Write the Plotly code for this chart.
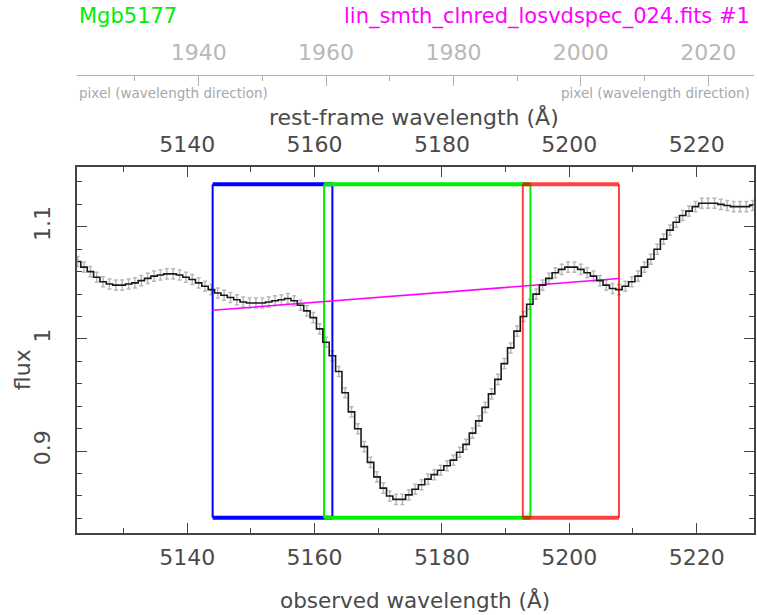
import plotly.graph_objects as go

# --- spectrum: pixel index, flux per pixel ---
pixel = list(range(1921, 2028))
lam_offset = 3201.8  # observed wavelength = pixel + offset (1 A / pixel)
flux = [
    1.069, 1.064, 1.060, 1.055, 1.051, 1.049, 1.048, 1.048, 1.049, 1.050,
    1.052, 1.054, 1.056, 1.057, 1.058, 1.058, 1.057, 1.055, 1.053, 1.050,
    1.047, 1.044, 1.041, 1.039, 1.037, 1.035, 1.033, 1.032, 1.032, 1.032,
    1.033, 1.034, 1.035, 1.036, 1.034, 1.030, 1.025, 1.019, 1.009, 0.997,
    0.985, 0.971, 0.952, 0.935, 0.920, 0.904, 0.890, 0.877, 0.867, 0.860,
    0.857, 0.857, 0.861, 0.866, 0.870, 0.875, 0.879, 0.883, 0.887, 0.892,
    0.899, 0.906, 0.916, 0.927, 0.939, 0.951, 0.964, 0.978, 0.992, 1.007,
    1.020, 1.031, 1.040, 1.048, 1.054, 1.059, 1.062, 1.064, 1.064, 1.062,
    1.059, 1.056, 1.052, 1.048, 1.045, 1.044, 1.047, 1.051, 1.056, 1.064,
    1.071, 1.080, 1.089, 1.097, 1.104, 1.110, 1.114, 1.118, 1.121, 1.121,
    1.121, 1.120, 1.119, 1.118, 1.118, 1.118, 1.119,
]
flux_err = 0.0045

# --- Mgb5177 index windows (observed wavelength) ---
blue_win = [5144.0, 5162.8]
band_win = [5161.5, 5193.9]
red_win = [5192.7, 5207.8]
box_flux = [0.8405, 1.138]

# pseudo-continuum line from blue to red window
cont_lam = [5144.0, 5207.8]
cont_flux = [1.0255, 1.0538]

x_range = [5122.7, 5229.0]
y_range = [0.827, 1.1533]

lam = [p + lam_offset for p in pixel]

FONT = "DejaVu Sans"
AX = "#444444"
TXT = "#4a4a4a"
PIXCOL = "#b0b0b0"

fig = go.Figure()

# error bars
fig.add_trace(go.Scatter(
    x=lam, y=flux, mode="markers",
    marker=dict(size=1, color="rgba(0,0,0,0)"),
    error_y=dict(type="constant", value=flux_err, color="#b8b8b8",
                 thickness=1.5, width=2),
    hoverinfo="skip", showlegend=False,
))


def window_box(win, color):
    x0, x1 = win
    y0, y1 = box_flux
    # thin sides
    fig.add_trace(go.Scatter(x=[x0, x0, None, x1, x1], y=[y0, y1, None, y0, y1],
                             mode="lines", line=dict(color=color, width=2),
                             showlegend=False, hoverinfo="skip"))
    # thick top and bottom
    fig.add_trace(go.Scatter(x=[x0, x1, None, x0, x1], y=[y0, y0, None, y1, y1],
                             mode="lines", line=dict(color=color, width=4),
                             showlegend=False, hoverinfo="skip"))


window_box(blue_win, "#0000ff")
window_box(band_win, "#00f000")
window_box(red_win, "rgba(255,0,0,0.75)")

# continuum
fig.add_trace(go.Scatter(x=cont_lam, y=cont_flux, mode="lines",
                         line=dict(color="#ff00ff", width=1.5),
                         showlegend=False, hoverinfo="skip"))

# spectrum as step line
fig.add_trace(go.Scatter(x=lam, y=flux, mode="lines", line_shape="hvh",
                         line=dict(color="#1a1a1a", width=1.6),
                         showlegend=False, hoverinfo="skip"))

# rest-frame axis (top) and pixel axis carriers
fig.add_trace(go.Scatter(x=x_range, y=[None, None], xaxis="x2", yaxis="y",
                         showlegend=False, hoverinfo="skip"))
fig.add_trace(go.Scatter(x=[x_range[0] - lam_offset, x_range[1] - lam_offset],
                         y=[None, None], xaxis="x3", yaxis="y",
                         showlegend=False, hoverinfo="skip"))

ydom_top = (533 - 167) / 473.0
pix_pos = (533 - 75) / 473.0

tickfont = dict(family=FONT, size=22, color=TXT)
wave_ticks = [5140, 5160, 5180, 5200, 5220]


def minor(d, t0, col):
    return dict(dtick=d, tick0=t0, ticks="inside", ticklen=5,
                tickwidth=1.2, tickcolor=col)


fig.update_layout(
    width=757, height=615,
    margin=dict(l=77, r=1, t=60, b=82),
    paper_bgcolor="white", plot_bgcolor="white",
    showlegend=False,
    xaxis=dict(range=x_range, domain=[0, 1], anchor="y",
               showline=True, linecolor=AX, linewidth=1.5,
               ticks="inside", ticklen=10, tickwidth=1.2, tickcolor=AX,
               tickvals=wave_ticks, minor=minor(10, 5120, AX),
               ticklabelstandoff=4,
               tickfont=tickfont, showgrid=False, zeroline=False),
    xaxis2=dict(range=x_range, overlaying="x", side="top", anchor="y",
                showline=True, linecolor=AX, linewidth=1.5,
                ticks="inside", ticklen=10, tickwidth=1.2, tickcolor=AX,
                tickvals=wave_ticks, minor=minor(10, 5120, AX),
                ticklabelstandoff=4,
                tickfont=tickfont, showgrid=False, zeroline=False),
    xaxis3=dict(range=[x_range[0] - lam_offset, x_range[1] - lam_offset],
                overlaying="x", side="top", anchor="free", position=pix_pos,
                showline=True, linecolor=PIXCOL, linewidth=1.2,
                ticks="inside", ticklen=10, tickwidth=1.2, tickcolor=PIXCOL,
                tickvals=[1940, 1960, 1980, 2000, 2020],
                minor=minor(10, 1920, PIXCOL),
                ticklabelstandoff=6,
                tickfont=dict(family=FONT, size=22, color="#b8b8b8"),
                showgrid=False, zeroline=False),
    yaxis=dict(range=y_range, domain=[0, ydom_top],
               showline=True, linecolor=AX, linewidth=1.5, mirror="ticks",
               ticks="inside", ticklen=10, tickwidth=1.2, tickcolor=AX,
               tickvals=[0.9, 1.0, 1.1], ticktext=["0.9", "1", "1.1"],
               tickangle=-90, minor=minor(0.02, 0.8, AX),
               ticklabelstandoff=16,
               tickfont=tickfont, showgrid=False, zeroline=False),
)

ann = [
    dict(text="Mgb5177", x=0.0, y=(533 - 16) / 473.0, xanchor="left",
         font=dict(family=FONT, size=21, color="#00ee00")),
    dict(text="lin_smth_clnred_losvdspec_024.fits #1", x=(754 - 77) / 679.0,
         y=(533 - 16) / 473.0, xanchor="right",
         font=dict(family=FONT, size=21, color="#ff00ff")),
    dict(text="pixel (wavelength direction)", x=0.0, y=(533 - 93) / 473.0,
         xanchor="left", font=dict(family=FONT, size=13.5, color="#a8a8a8")),
    dict(text="pixel (wavelength direction)", x=(754 - 77) / 679.0,
         y=(533 - 93) / 473.0, xanchor="right",
         font=dict(family=FONT, size=13.5, color="#a8a8a8")),
    dict(text="rest-frame wavelength (Å)", x=(415 - 77) / 679.0,
         y=(533 - 117) / 473.0, xanchor="center",
         font=dict(family=FONT, size=22, color=TXT)),
    dict(text="observed wavelength (Å)", x=(416 - 77) / 679.0,
         y=(533 - 600) / 473.0, xanchor="center",
         font=dict(family=FONT, size=21.5, color=TXT)),
    dict(text="flux", x=(22 - 77) / 679.0, y=(533 - 370) / 473.0,
         textangle=-90, xanchor="center",
         font=dict(family=FONT, size=22, color=TXT)),
]
for a in ann:
    a.update(xref="paper", yref="paper", showarrow=False, yanchor="middle")
fig.update_layout(annotations=ann)

fig.write_html("out.html")
